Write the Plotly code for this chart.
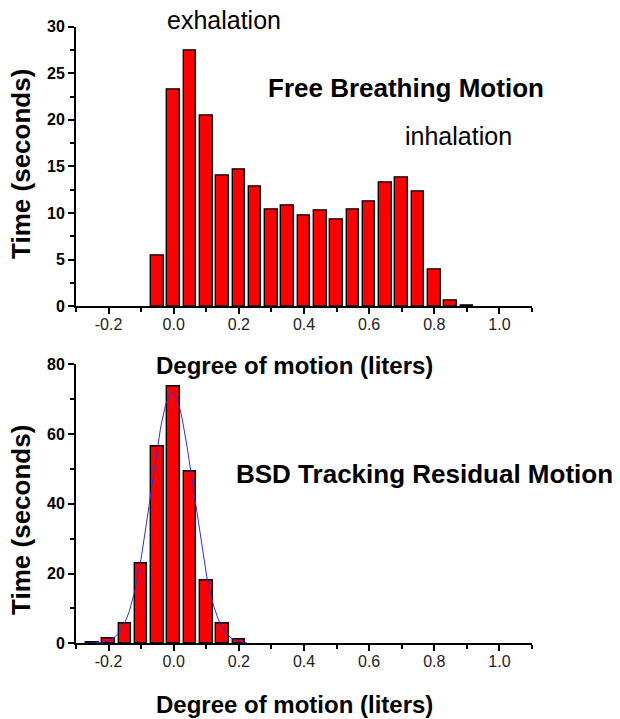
import numpy as np
import plotly.graph_objects as go

# ---- data -------------------------------------------------------------
# Free breathing histogram (bin centres in liters, time in seconds)
free_centers = [-0.05, 0.0, 0.05, 0.10, 0.15, 0.20, 0.25, 0.30, 0.35, 0.40,
                0.45, 0.50, 0.55, 0.60, 0.65, 0.70, 0.75, 0.80, 0.85, 0.90]
free_time = [5.4, 23.2, 27.4, 20.5, 14.0, 14.7, 12.9, 10.4, 10.8, 9.7,
             10.3, 9.35, 10.4, 11.2, 13.3, 13.8, 12.3, 3.9, 0.65, 0.1]

# BSD tracking residual histogram
bsd_centers = [-0.25, -0.20, -0.15, -0.10, -0.05, 0.0, 0.05, 0.10, 0.15, 0.20]
bsd_time = [0.3, 1.4, 5.8, 23.05, 56.4, 73.8, 49.3, 17.9, 5.7, 1.05]

bin_width = 0.05
x_ticks = [-0.2, 0.0, 0.2, 0.4, 0.6, 0.8, 1.0]
x_tick_text = ["-0.2", "0.0", "0.2", "0.4", "0.6", "0.8", "1.0"]

# ---- gaussian fit of the residual histogram (moment estimate) ---------
c = np.array(bsd_centers)
t = np.array(bsd_time)
mu = (c * t).sum() / t.sum()
var = ((c - mu) ** 2 * t).sum() / t.sum() - bin_width ** 2 / 12
sigma = np.sqrt(var)
amp = t.sum() * bin_width / (sigma * np.sqrt(2 * np.pi))
fit_x = np.linspace(-0.27, 0.225, 200)
fit_y = amp * np.exp(-(fit_x - mu) ** 2 / (2 * sigma ** 2))

# ---- figure -----------------------------------------------------------
W, H = 620, 719
FONT = "Liberation Sans, Arial, Helvetica, sans-serif"


def px(x):
    return x / W


def py(y):
    return 1 - y / H


bar_style = dict(marker=dict(color="#ff0000", line=dict(color="#000000", width=1.4)),
                 width=0.039, showlegend=False, hoverinfo="skip")

fig = go.Figure()
fig.add_trace(go.Bar(x=free_centers, y=free_time, xaxis="x", yaxis="y", **bar_style))
fig.add_trace(go.Bar(x=bsd_centers, y=bsd_time, xaxis="x2", yaxis="y2", **bar_style))
fig.add_trace(go.Scatter(x=fit_x, y=fit_y, mode="lines", xaxis="x2", yaxis="y2",
                         line=dict(color="#3030d8", width=1), showlegend=False,
                         hoverinfo="skip"))

x_common = dict(range=[-0.3, 1.1], tickvals=x_ticks, ticktext=x_tick_text,
                showline=True, linewidth=2, linecolor="black",
                ticks="outside", ticklen=6, tickwidth=1.5, tickcolor="black",
                ticklabelstandoff=-4,
                minor=dict(ticks="outside", ticklen=4, tickwidth=1.5,
                           tickcolor="black", dtick=0.1, tick0=-0.3),
                showgrid=False, zeroline=False,
                tickfont=dict(family=FONT, size=16, color="#222"))
y_common = dict(showline=True, linewidth=2, linecolor="black",
                ticks="outside", ticklen=6, tickwidth=1.5, tickcolor="black",
                showgrid=False, zeroline=False,
                tickfont=dict(family=FONT, size=16, color="black", weight="bold"))

fig.update_layout(
    width=W, height=H,
    margin=dict(l=0, r=0, t=0, b=0),
    paper_bgcolor="white", plot_bgcolor="white",
    bargap=0,
    xaxis=dict(domain=[px(76), px(532)], anchor="y", **x_common),
    yaxis=dict(domain=[py(305.6), py(19)], anchor="x", range=[0, 30], dtick=5,
               minor=dict(ticks="outside", ticklen=4, tickwidth=1.5,
                          tickcolor="black", dtick=2.5),
               **y_common),
    xaxis2=dict(domain=[px(76), px(532)], anchor="y2", **x_common),
    yaxis2=dict(domain=[py(650.7), py(365.1)], anchor="x2", range=[0, 80], dtick=20,
                minor=dict(ticks="outside", ticklen=4, tickwidth=1.5,
                           tickcolor="black", dtick=10),
                **y_common),
)

bold = dict(family=FONT, color="black", weight="bold")
plain = dict(family=FONT, color="black")


def label(text, x, y, size, font, angle=0):
    fig.add_annotation(text=text, x=px(x), y=py(y), xref="paper", yref="paper",
                       showarrow=False, xanchor="center", yanchor="middle",
                       textangle=angle, font=dict(size=size, **font))


label("exhalation", 224, 11.8, 25, plain)
label("Free Breathing Motion", 406, 81.7, 26, bold)
label("inhalation", 458, 131.0, 25, plain)
label("BSD Tracking Residual Motion", 425, 477.1, 26, bold)
label("Degree of motion (liters)", 294, 366.2, 24, bold)
label("Degree of motion (liters)", 294, 713.0, 24, bold)
label("Time (seconds)", 21, 159.7, 26, bold, angle=-90)
label("Time (seconds)", 21, 524.3, 26, bold, angle=-90)

fig.write_html("out.html")
